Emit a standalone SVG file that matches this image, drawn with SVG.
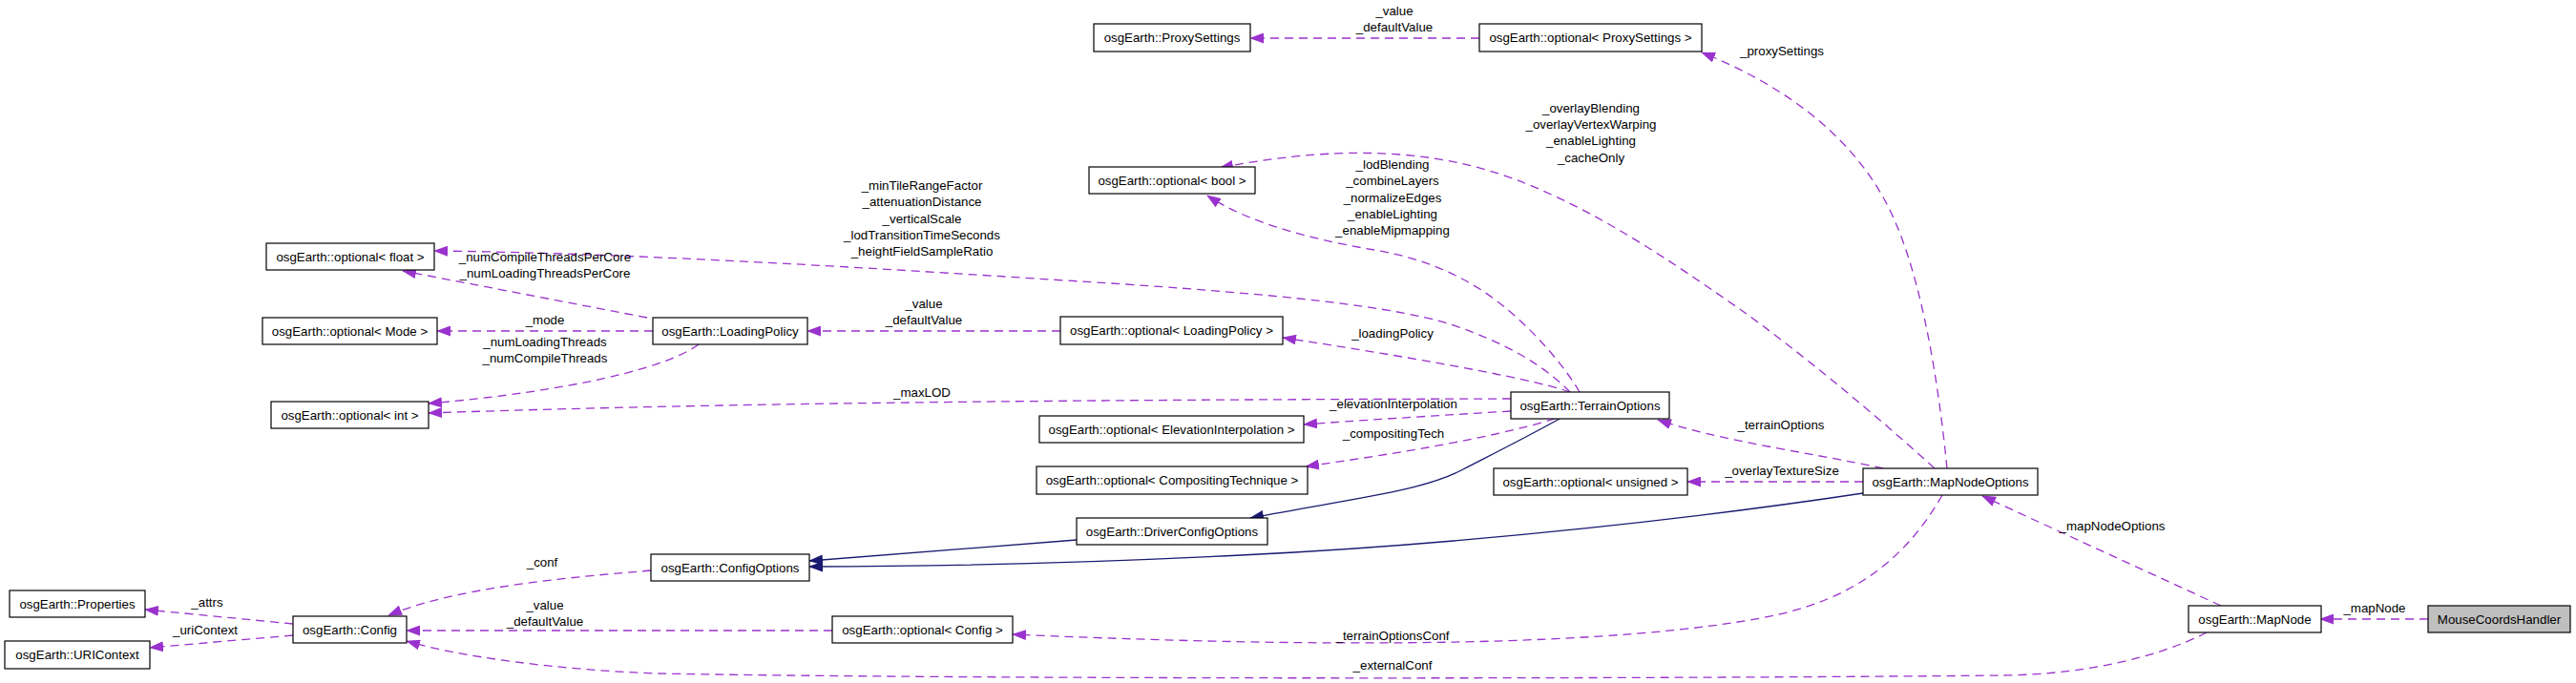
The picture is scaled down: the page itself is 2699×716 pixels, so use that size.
<svg xmlns="http://www.w3.org/2000/svg" width="2699" height="716" viewBox="0 0 2699 716">
<style>
.n rect{fill:#fff;stroke:#000;stroke-width:1.2}
.n text,.lbl text{font-family:"Liberation Sans",Arial,sans-serif;font-size:13.3px;fill:#000;text-anchor:middle}
.d{fill:none;stroke:#9a32cd;stroke-width:1.3;stroke-dasharray:9,6;marker-end:url(#ap)}
.s{fill:none;stroke:#191970;stroke-width:1.3;marker-end:url(#ab)}
</style>
<defs>
<marker id="ap" markerUnits="userSpaceOnUse" markerWidth="15" markerHeight="11" viewBox="0 0 15 11" refX="14" refY="5.5" orient="auto"><path d="M0,0 L15,5.5 L0,11 z" fill="#9a32cd"/></marker>
<marker id="ab" markerUnits="userSpaceOnUse" markerWidth="15" markerHeight="11" viewBox="0 0 15 11" refX="14" refY="5.5" orient="auto"><path d="M0,0 L15,5.5 L0,11 z" fill="#191970"/></marker>
</defs>
<rect width="2699" height="716" fill="#fff"/>
<g id="edges">
<path class="d" d="M1550,40 L1310,40"/>
<path class="d" d="M2040,491 C2030,390 2010,270 1972,205 C1935,140 1870,90 1783,55"/>
<path class="d" d="M2027,491 C1960,430 1880,365 1827,327 C1760,280 1680,225 1600,193 C1520,160 1420,148 1278,176"/>
<path class="d" d="M1655,411 C1640,385 1610,350 1580,325 C1545,295 1500,272 1440,262 C1380,252 1310,235 1265,205"/>
<path class="d" d="M1645,411 C1620,385 1580,360 1520,340 C1450,318 1300,305 1100,293 C900,280 650,265 455,263"/>
<path class="d" d="M1645,411 C1600,395 1450,370 1344,354"/>
<path class="d" d="M1583,418 C1200,419 800,421 449,433"/>
<path class="d" d="M1583,431 C1500,436 1420,441 1366,445"/>
<path class="d" d="M1629,439 C1560,460 1460,476 1368,489"/>
<path class="s" d="M1634,439 C1600,458 1560,478 1533,492 C1490,515 1420,522 1310,543"/>
<path class="d" d="M678,333 L422,284"/>
<path class="d" d="M684,347 L458,347"/>
<path class="d" d="M732,361 C700,385 600,410 449,423"/>
<path class="d" d="M1111,347 L846,347"/>
<path class="s" d="M1128,566 L848,588"/>
<path class="s" d="M1952,517 C1800,540 1550,570 1300,582 C1100,592 950,594 848,594"/>
<path class="d" d="M682,598 C600,605 480,615 407,645"/>
<path class="d" d="M307,654 L152,639"/>
<path class="d" d="M307,666 L157,679"/>
<path class="d" d="M872,661 L426,661"/>
<path class="d" d="M2035,519 C2000,580 1950,625 1860,645 C1700,678 1400,680 1061,665"/>
<path class="d" d="M2312,663 C2260,690 2180,707 2100,708 C1700,712 1000,712 689,706 C580,702 480,688 426,672"/>
<path class="d" d="M2327,635 L2077,520"/>
<path class="d" d="M1973,491 C1900,475 1800,462 1737,440"/>
<path class="d" d="M1952,505 L1768,505"/>
<path class="d" d="M2544,649 L2431,649"/>
</g>
<g class="lbl" id="labels">
<text x="1461" y="16">_value</text><text x="1461" y="33">_defaultValue</text>
<text x="1867" y="58">_proxySettings</text>
<text x="1667" y="118">_overlayBlending</text><text x="1667" y="135">_overlayVertexWarping</text><text x="1667" y="152">_enableLighting</text><text x="1667" y="170">_cacheOnly</text>
<text x="1459" y="177">_lodBlending</text><text x="1459" y="194">_combineLayers</text><text x="1459" y="212">_normalizeEdges</text><text x="1459" y="229">_enableLighting</text><text x="1459" y="246">_enableMipmapping</text>
<text x="966" y="199">_minTileRangeFactor</text><text x="966" y="216">_attenuationDistance</text><text x="966" y="234">_verticalScale</text><text x="966" y="251">_lodTransitionTimeSeconds</text><text x="966" y="268">_heightFieldSampleRatio</text>
<text x="571" y="274">_numCompileThreadsPerCore</text><text x="571" y="291">_numLoadingThreadsPerCore</text>
<text x="571" y="340">_mode</text>
<text x="571" y="363">_numLoadingThreads</text><text x="571" y="380">_numCompileThreads</text>
<text x="968" y="323">_value</text><text x="968" y="340">_defaultValue</text>
<text x="966" y="416">_maxLOD</text>
<text x="1459" y="354">_loadingPolicy</text>
<text x="1460" y="428">_elevationInterpolation</text>
<text x="1460" y="459">_compositingTech</text>
<text x="1866" y="450">_terrainOptions</text>
<text x="1867" y="498">_overlayTextureSize</text>
<text x="2213" y="556">_mapNodeOptions</text>
<text x="568" y="594">_conf</text>
<text x="217" y="636">_attrs</text>
<text x="215" y="665">_uriContext</text>
<text x="571" y="639">_value</text><text x="571" y="656">_defaultValue</text>
<text x="1459" y="671">_terrainOptionsConf</text>
<text x="1459" y="702">_externalConf</text>
<text x="2488" y="642">_mapNode</text>
</g>
<g class="n" id="n_proxysettings"><rect x="1146" y="25" width="164" height="29"/><text x="1228" y="44">osgEarth::ProxySettings</text></g>
<g class="n" id="n_opt_proxysettings"><rect x="1550" y="25" width="233" height="29"/><text x="1666.5" y="44">osgEarth::optional&lt; ProxySettings &gt;</text></g>
<g class="n" id="n_opt_bool"><rect x="1141" y="175" width="174" height="28"/><text x="1228" y="194">osgEarth::optional&lt; bool &gt;</text></g>
<g class="n" id="n_opt_float"><rect x="279" y="255" width="176" height="28"/><text x="367" y="274">osgEarth::optional&lt; float &gt;</text></g>
<g class="n" id="n_opt_mode"><rect x="275" y="333" width="183" height="28"/><text x="366.5" y="352">osgEarth::optional&lt; Mode &gt;</text></g>
<g class="n" id="n_loadingpolicy"><rect x="684" y="333" width="162" height="28"/><text x="765" y="352">osgEarth::LoadingPolicy</text></g>
<g class="n" id="n_opt_loadingpolicy"><rect x="1111" y="332" width="233" height="29"/><text x="1227.5" y="351">osgEarth::optional&lt; LoadingPolicy &gt;</text></g>
<g class="n" id="n_opt_int"><rect x="284" y="421" width="165" height="28"/><text x="366.5" y="440">osgEarth::optional&lt; int &gt;</text></g>
<g class="n" id="n_terrainoptions"><rect x="1583" y="411" width="166" height="28"/><text x="1666" y="430">osgEarth::TerrainOptions</text></g>
<g class="n" id="n_opt_elev"><rect x="1089" y="436" width="277" height="28"/><text x="1227.5" y="455">osgEarth::optional&lt; ElevationInterpolation &gt;</text></g>
<g class="n" id="n_opt_comp"><rect x="1086" y="489" width="284" height="29"/><text x="1228" y="508">osgEarth::optional&lt; CompositingTechnique &gt;</text></g>
<g class="n" id="n_opt_unsigned"><rect x="1565" y="491" width="203" height="28"/><text x="1666.5" y="510">osgEarth::optional&lt; unsigned &gt;</text></g>
<g class="n" id="n_mapnodeoptions"><rect x="1952" y="491" width="183" height="28"/><text x="2043.5" y="510">osgEarth::MapNodeOptions</text></g>
<g class="n" id="n_driverconfigoptions"><rect x="1128" y="543" width="200" height="28"/><text x="1228" y="562">osgEarth::DriverConfigOptions</text></g>
<g class="n" id="n_configoptions"><rect x="682" y="581" width="166" height="28"/><text x="765" y="600">osgEarth::ConfigOptions</text></g>
<g class="n" id="n_properties"><rect x="10" y="619" width="142" height="28"/><text x="81" y="638">osgEarth::Properties</text></g>
<g class="n" id="n_config"><rect x="307" y="646" width="119" height="28"/><text x="366.5" y="665">osgEarth::Config</text></g>
<g class="n" id="n_uricontext"><rect x="5" y="672" width="152" height="29"/><text x="81" y="691">osgEarth::URIContext</text></g>
<g class="n" id="n_opt_config"><rect x="872" y="646" width="189" height="28"/><text x="966.5" y="665">osgEarth::optional&lt; Config &gt;</text></g>
<g class="n" id="n_mapnode"><rect x="2293" y="635" width="139" height="28"/><text x="2362.5" y="654">osgEarth::MapNode</text></g>
<g class="n" id="n_mousecoordshandler"><rect x="2544" y="635" width="149" height="28" style="fill:#bfbfbf"/><text x="2618.5" y="654">MouseCoordsHandler</text></g>
</svg>
